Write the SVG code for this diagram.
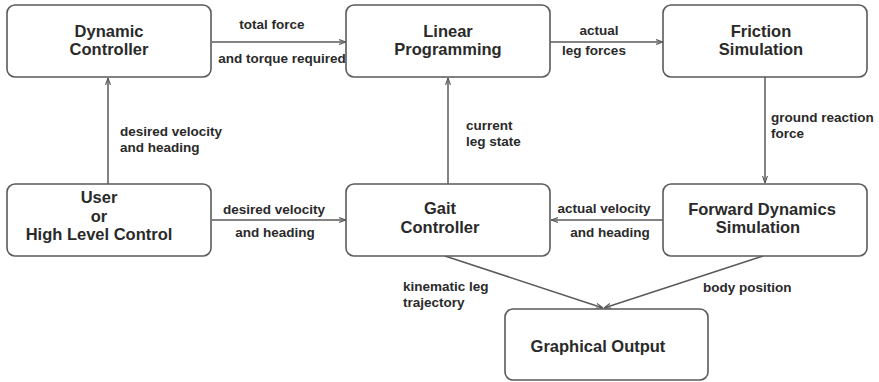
<svg xmlns="http://www.w3.org/2000/svg" width="879" height="382" viewBox="0 0 879 382">
<style>
.box{fill:#fff;stroke:#5a5a5a;stroke-width:1.6}
.n{font-family:"Liberation Sans",Arial,sans-serif;font-weight:bold;font-size:16.5px;fill:#2a2a2a;text-anchor:middle}
.e{font-family:"Liberation Sans",Arial,sans-serif;font-weight:bold;font-size:13.5px;fill:#2a2a2a}
.c{text-anchor:middle}
.ln{fill:none;stroke:#5a5a5a;stroke-width:1.5;marker-end:url(#ah)}
</style>
<defs>
<marker id="ah" viewBox="0 0 10 10" refX="10" refY="5" markerWidth="7" markerHeight="7" markerUnits="userSpaceOnUse" orient="auto">
<path d="M0,1.5 L10,5 L0,8.5" fill="none" stroke="#5a5a5a" stroke-width="1.6"/>
</marker>
</defs>
<rect width="879" height="382" fill="#fff"/>
<g id="connectors">
<line class="ln" x1="212" y1="42" x2="346" y2="42"/>
<line class="ln" x1="550" y1="42" x2="663" y2="42"/>
<line class="ln" x1="108" y1="184" x2="108" y2="78"/>
<line class="ln" x1="448" y1="184" x2="448" y2="78"/>
<line class="ln" x1="765" y1="77" x2="765" y2="183"/>
<line class="ln" x1="212" y1="220" x2="346" y2="220"/>
<line class="ln" x1="663" y1="220" x2="551" y2="220"/>
<line class="ln" x1="445" y1="256" x2="603" y2="308"/>
<line class="ln" x1="763" y1="256" x2="604" y2="308"/>
<text class="e c" x="272" y="29">total force</text>
<text class="e c" x="282" y="63">and torque required</text>
<text class="e c" x="599" y="35">actual</text>
<text class="e c" x="594" y="55">leg forces</text>
<text class="e" x="120" y="136">desired velocity</text>
<text class="e" x="120" y="152">and heading</text>
<text class="e" x="466" y="130">current</text>
<text class="e" x="466" y="146">leg state</text>
<text class="e" x="771" y="122">ground reaction</text>
<text class="e" x="771" y="138">force</text>
<text class="e c" x="274" y="214">desired velocity</text>
<text class="e c" x="275" y="237">and heading</text>
<text class="e c" x="604" y="213">actual velocity</text>
<text class="e c" x="610" y="237">and heading</text>
<text class="e" x="403" y="291">kinematic leg</text>
<text class="e" x="403" y="307">trajectory</text>
<text class="e" x="703" y="292">body position</text>
</g>
<g id="dynamic-controller">
<rect class="box" x="7" y="5" width="204" height="72" rx="8"/>
<text class="n" x="109" y="37">Dynamic</text>
<text class="n" x="109" y="55">Controller</text>
</g>
<g id="linear-programming">
<rect class="box" x="346" y="5" width="204" height="72" rx="8"/>
<text class="n" x="448" y="37">Linear</text>
<text class="n" x="448" y="55">Programming</text>
</g>
<g id="friction-simulation">
<rect class="box" x="663" y="5" width="204" height="72" rx="8"/>
<text class="n" x="761" y="37">Friction</text>
<text class="n" x="761" y="55">Simulation</text>
</g>
<g id="user">
<rect class="box" x="7" y="184" width="204" height="72" rx="8"/>
<text class="n" x="99" y="203">User</text>
<text class="n" x="99" y="222">or</text>
<text class="n" x="99" y="240">High Level Control</text>
</g>
<g id="gait-controller">
<rect class="box" x="346" y="184" width="204" height="72" rx="8"/>
<text class="n" x="440" y="214">Gait</text>
<text class="n" x="440" y="233">Controller</text>
</g>
<g id="forward-dynamics">
<rect class="box" x="663" y="184" width="204" height="72" rx="8"/>
<text class="n" x="762" y="215">Forward Dynamics</text>
<text class="n" x="758" y="233">Simulation</text>
</g>
<g id="graphical-output">
<rect class="box" x="505" y="309" width="203" height="71" rx="8"/>
<text class="n" x="598" y="352">Graphical Output</text>
</g>
</svg>
